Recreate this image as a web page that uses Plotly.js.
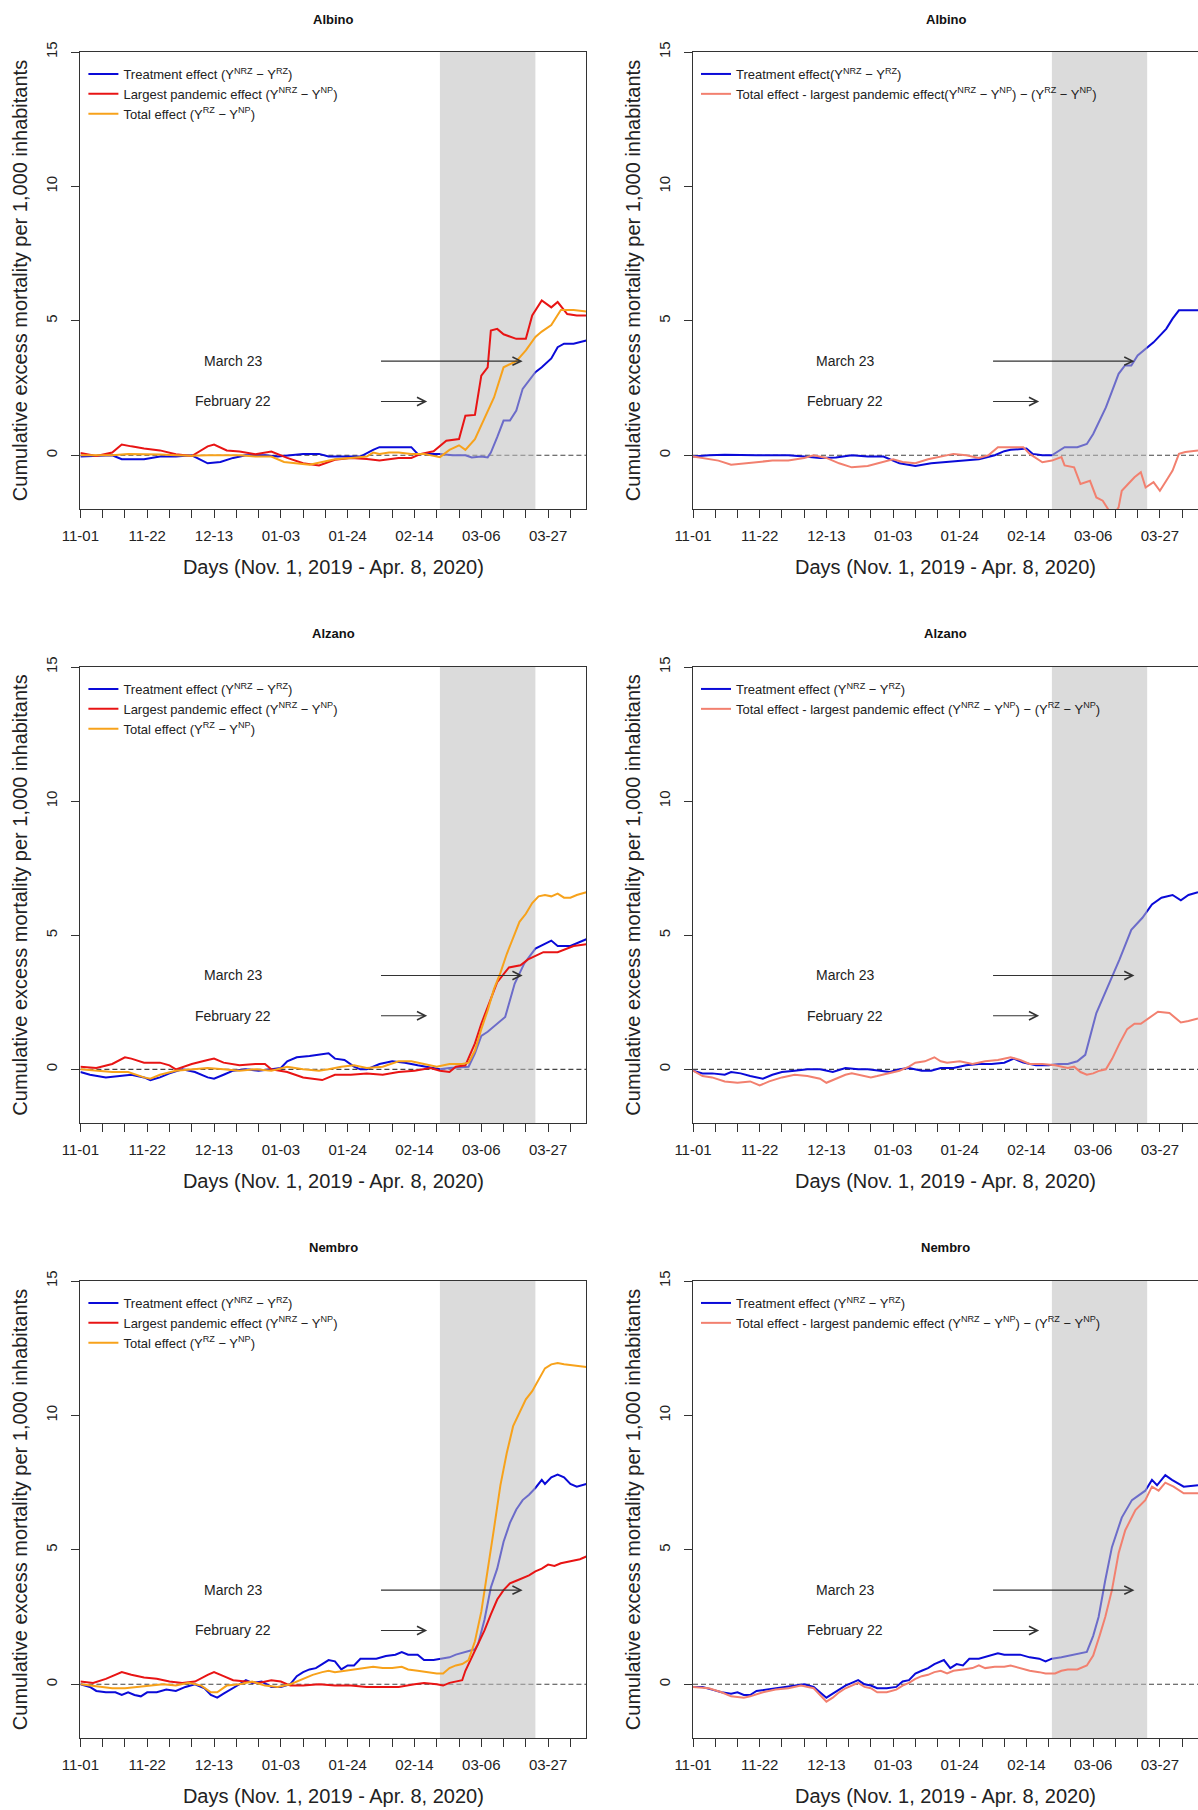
<!DOCTYPE html>
<html><head><meta charset="utf-8">
<script src="https://cdn.plot.ly/plotly-3.0.1.min.js"></script>
<style>html,body{margin:0;padding:0;background:#fff}#chart{width:1198px;height:1810px}</style>
</head><body><div id="chart"></div>
<script>
// ---------- axis / annotation data ----------
const labelDays = [0,21,42,63,84,105,126,147];
const labelText = ['11-01','11-22','12-13','01-03','01-24','02-14','03-06','03-27'];
const weekDays = [0,7,14,21,28,35,42,49,56,63,70,77,84,91,98,105,112,119,126,133,140,147,154];
const dayRange = [0, 159];
const valueRange = [-2, 15];
const valueTicks = [0, 5, 10, 15];
const shadeStart = 113;   // February 22
const shadeEnd = 143;     // March 23
const arrowTail = 94;
const febArrow = {label:'February 22', textX:48, y:2, tip:109};
const marArrow = {label:'March 23', textX:48, y:3.5, tip:139};
const xTitle = 'Days (Nov. 1, 2019 - Apr. 8, 2020)';
const yTitle = 'Cumulative excess mortality per 1,000 inhabitants';
const towns = ['Albino','Albino','Alzano','Alzano','Nembro','Nembro'];

// ---------- Albino, left ----------
const albL_treat_x = [0,5,10,13,20,25,30,35,40,44,48,52,58,62,66,70,75,78,84,88,92,94,100,104,106,109,113,117,121,123,126,128,129,131,133,135,137,139,141,143,145,148,150,152,155,159];
const albL_treat_y = [-0.05,-0.02,0,-0.15,-0.15,-0.05,-0.05,0,-0.3,-0.25,-0.1,0,0,-0.05,0,0.05,0.05,-0.05,-0.05,-0.05,0.2,0.3,0.3,0.3,0.05,0.05,0.05,0,0,-0.08,-0.05,-0.08,0.1,0.67,1.29,1.29,1.66,2.47,2.78,3.09,3.27,3.6,4.02,4.15,4.15,4.27];
const albL_pand_x = [0,5,10,13,16,20,25,30,35,40,42,46,50,55,60,65,70,75,80,85,90,94,100,104,107,111,115,119,121,124,126,128,129,131,133,137,140,142,145,148,150,153,156,159];
const albL_pand_y = [0.08,-0.03,0.1,0.4,0.33,0.25,0.18,0.04,-0.03,0.33,0.4,0.18,0.14,0.04,0.14,-0.1,-0.3,-0.38,-0.17,-0.1,-0.14,-0.2,-0.1,-0.1,0.05,0.15,0.54,0.6,1.47,1.5,2.96,3.27,4.64,4.7,4.5,4.33,4.33,5.2,5.76,5.5,5.7,5.25,5.2,5.2];
const albL_total_x = [0,5,10,15,20,25,30,35,40,45,50,55,60,64,68,72,76,80,85,90,92,94,97,100,104,108,113,116,119,121,124,127,130,133,137,140,143,145,148,151,155,159];
const albL_total_y = [0,0,0,0.05,0.05,0.03,0,-0.02,0,0,0,-0.05,-0.05,-0.25,-0.3,-0.35,-0.25,-0.15,-0.1,-0.05,0.1,0.05,0.1,0.1,0.05,0.05,-0.07,0.2,0.37,0.2,0.6,1.4,2.15,3.27,3.5,3.9,4.4,4.6,4.84,5.4,5.4,5.35];

// ---------- Albino, right ----------
const albR_treat_x = [0,5,10,15,20,25,30,35,40,45,50,55,60,65,70,75,80,85,88,90,95,98,100,105,107,110,113,117,121,124,126,128,130,132,134,136,138,140,142,145,147,149,151,153,155,159];
const albR_treat_y = [-0.05,0,0.02,0,0,0,0,-0.05,-0.1,-0.08,0,-0.05,-0.05,-0.3,-0.4,-0.3,-0.25,-0.2,-0.15,-0.15,0,0.15,0.2,0.25,0.05,0,0,0.3,0.3,0.42,0.79,1.29,1.78,2.4,3.03,3.34,3.34,3.71,3.9,4.2,4.45,4.7,5.08,5.39,5.39,5.39];
const albR_diff_x = [0,3,8,12,16,20,25,30,35,38,42,46,50,55,60,63,66,70,74,78,82,86,90,93,96,100,104,106,110,113,116,117,120,122,125,127,129,131,132.5,134,135,137,139,141,142.5,145,147,149,151,153,155,159];
const albR_diff_y = [-0.05,-0.1,-0.2,-0.35,-0.3,-0.25,-0.2,-0.2,-0.1,0,-0.1,-0.3,-0.45,-0.4,-0.25,-0.15,-0.25,-0.3,-0.15,-0.05,0.05,0,-0.1,0,0.3,0.3,0.3,0.05,-0.26,-0.2,-0.07,-0.38,-0.45,-1.07,-0.95,-1.57,-1.69,-2.06,-2.2,-1.94,-1.32,-1.07,-0.82,-0.63,-1.2,-1.0,-1.32,-0.95,-0.57,0.05,0.12,0.18];

// ---------- Alzano, left ----------
const alzL_treat_x = [0,3,8,12,16,20,22,25,28,32,36,40,42,45,48,52,56,60,63,65,68,72,76,78,80,83,86,88,90,94,98,102,106,110,113,116,120,122,124,126,128,131,133.5,136.5,139.5,143,145.5,148,150,154,159];
const alzL_treat_y = [-0.1,-0.2,-0.3,-0.25,-0.2,-0.3,-0.4,-0.3,-0.15,0,-0.1,-0.3,-0.35,-0.2,-0.05,0,-0.05,0,0.05,0.3,0.45,0.5,0.55,0.6,0.4,0.35,0.1,0,0,0.2,0.3,0.25,0.15,0.05,0,0.05,0.1,0.1,0.6,1.25,1.4,1.7,1.95,3.2,3.95,4.5,4.65,4.8,4.6,4.6,4.85];
const alzL_pand_x = [0,5,10,14,16,20,25,28,30,35,40,42,45,50,55,58,60,65,70,76,80,85,90,95,100,105,110,113,116,118,121,124,126,128.7,131,134.7,138.3,140.7,145.5,150,155,159];
const alzL_pand_y = [0.1,0.05,0.2,0.45,0.4,0.25,0.25,0.15,0,0.2,0.35,0.4,0.25,0.15,0.2,0.2,0,-0.1,-0.3,-0.4,-0.2,-0.2,-0.15,-0.2,-0.1,-0.05,0.05,-0.05,-0.1,0.1,0.15,0.97,1.7,2.5,3.25,3.8,3.88,4.1,4.37,4.37,4.6,4.66];
const alzL_total_x = [0,5,10,15,20,22,25,30,35,40,45,50,55,60,65,70,75,78,82,86,90,95,100,104,108,112,116,120,122,124,126,128,130,132,134,136,138,140,142,144,146,148,150,152,154,156,159];
const alzL_total_y = [0,-0.05,-0.1,-0.1,-0.3,-0.35,-0.2,-0.05,0,0.05,0,-0.05,0,-0.05,0.1,0,-0.05,0,0.1,0.15,0.05,0.1,0.3,0.3,0.2,0.1,0.2,0.2,0.25,0.7,1.5,2.2,3.0,3.6,4.3,4.9,5.5,5.8,6.2,6.45,6.5,6.45,6.55,6.4,6.4,6.5,6.6];

// ---------- Alzano, right ----------
const alzR_treat_x = [0,3,6,10,12,15,18,22,25,28,32,36,40,44,48,52,55,58,62,65,68,72,75,78,82,86,90,94,98,101,104,108,112,115,118,121,123.5,127,130.7,134.3,138,141.5,144.5,147.5,151,153.6,156,159];
const alzR_treat_y = [-0.05,-0.15,-0.15,-0.2,-0.1,-0.15,-0.25,-0.35,-0.2,-0.1,-0.05,0,0,-0.1,0.05,0,0,-0.05,-0.1,0,0.05,-0.05,-0.05,0.05,0.05,0.15,0.2,0.2,0.25,0.4,0.25,0.15,0.15,0.2,0.2,0.3,0.54,2.1,3.1,4.1,5.2,5.65,6.15,6.4,6.5,6.3,6.5,6.6];
const alzR_diff_x = [0,3,6,10,14,18,21,24,28,32,36,40,42,45,48,50,54,56,58,62,65,68,70,73,76,78,80,84,88,92,96,100,103,106,110,114,118,120,122,124,126,128,130,132,134.3,136.7,139,141,144,146.4,150,153.6,156,159];
const alzR_diff_y = [-0.05,-0.25,-0.3,-0.45,-0.5,-0.45,-0.6,-0.45,-0.3,-0.2,-0.25,-0.35,-0.5,-0.35,-0.2,-0.15,-0.25,-0.3,-0.25,-0.15,-0.05,0.1,0.25,0.3,0.45,0.3,0.25,0.3,0.2,0.3,0.35,0.45,0.35,0.2,0.2,0.15,0.05,0.1,-0.1,-0.2,-0.15,-0.05,0,0.4,0.97,1.5,1.7,1.7,1.95,2.15,2.1,1.75,1.8,1.9];

// ---------- Nembro, left ----------
const nemL_treat_x = [0,3,5,8,11,13,15,17,19,21,24,27,30,33,36,39,41,43,45,48,50,52,54,57,60,63,66,68,70,72,74,76,78,80,82,84,86,88,90,93,96,99,101,103,106,108,111,113,116,118,121,124,125,127,129,131,133,135,137,139,141,143,145,146,148,150,152,154,156,159];
const nemL_treat_y = [0,-0.1,-0.25,-0.3,-0.3,-0.4,-0.3,-0.4,-0.45,-0.3,-0.3,-0.2,-0.25,-0.1,0,-0.15,-0.4,-0.5,-0.35,-0.15,0,0.15,0.05,0.1,-0.1,-0.1,0,0.3,0.45,0.55,0.6,0.75,0.9,0.85,0.55,0.7,0.7,0.95,0.95,0.95,1.05,1.1,1.2,1.1,1.1,0.9,0.9,0.95,1.0,1.1,1.2,1.3,1.5,2.4,3.6,4.3,5.3,6.0,6.5,6.85,7.05,7.3,7.6,7.45,7.7,7.8,7.7,7.45,7.35,7.45];
const nemL_pand_x = [0,4,8,13,16,20,24,28,32,36,40,42,45,48,52,56,60,63,66,70,75,80,85,90,95,100,105,108,112,114,116,118,120,121,123,125,127,129,131,133,135,137,139,141,143,145,147,149,151,153,155,157,159];
const nemL_pand_y = [0.1,0.05,0.2,0.45,0.35,0.25,0.2,0.1,0.05,0.1,0.35,0.45,0.3,0.15,0.1,0.05,0.15,0.1,-0.05,-0.05,0,-0.05,-0.05,-0.1,-0.1,-0.1,0,0.05,0,-0.05,0.05,0.1,0.15,0.5,1.0,1.5,2.0,2.6,3.15,3.5,3.75,3.85,3.95,4.05,4.2,4.3,4.45,4.4,4.5,4.55,4.6,4.65,4.75];
const nemL_total_x = [0,3,6,10,14,18,22,26,30,34,38,41,43,46,50,54,58,62,66,68,70,73,76,78,80,83,86,89,92,95,98,101,103,106,109,112,114,116,118,120,122,124,126,128,130,132,134,136,138,140,142,144,146,148,150,152,155,159];
const nemL_total_y = [0,-0.05,-0.1,-0.15,-0.15,-0.1,-0.05,0,-0.05,0.05,-0.05,-0.3,-0.3,-0.05,0,0.1,-0.05,-0.1,0,0.1,0.2,0.35,0.45,0.5,0.45,0.5,0.55,0.6,0.65,0.6,0.6,0.65,0.55,0.5,0.45,0.4,0.4,0.6,0.7,0.75,0.9,1.6,2.7,4.2,5.8,7.4,8.6,9.6,10.1,10.6,10.9,11.3,11.75,11.9,11.95,11.9,11.85,11.8];

// ---------- Nembro, right ----------
const nemR_treat_x = [0,3,6,9,12,14,16,18,20,23,26,29,32,35,38,40,42,44,46,48,50,52,54,56,58,61,64,66,68,70,72,74,76,78,79,81,83,85,87,90,93,96,98,100,103,106,109,111,113,116,118,121,124,126,127.7,129.8,131.9,135,138.2,142.4,144.5,146.1,148.7,150.8,154.5,159];
const nemR_treat_y = [-0.1,-0.1,-0.2,-0.3,-0.35,-0.3,-0.4,-0.4,-0.25,-0.2,-0.15,-0.1,-0.05,0,-0.1,-0.3,-0.5,-0.35,-0.2,-0.05,0.05,0.15,0,-0.05,-0.15,-0.15,-0.1,0.1,0.15,0.4,0.5,0.6,0.75,0.85,0.9,0.6,0.75,0.7,0.95,0.95,1.05,1.15,1.1,1.1,1.1,1.0,0.95,0.85,0.95,1.0,1.05,1.1,1.2,1.8,2.5,3.87,5.1,6.2,6.85,7.2,7.6,7.4,7.78,7.6,7.35,7.4];
const nemR_diff_x = [0,5,9,12,16,18,22,26,30,34,38,40,42,44,46,48,50,52,54,56,58,61,64,66,68,70,72,74,76,78,80,82,85,88,90,92,95,98,100,103,106,109,111,114,116,118,121,124,126,128,129.8,131.9,134,136.1,139.3,142.4,144.5,146.6,148.7,151.3,154.5,159];
const nemR_diff_y = [-0.1,-0.15,-0.3,-0.45,-0.5,-0.45,-0.3,-0.2,-0.15,-0.05,-0.15,-0.4,-0.65,-0.5,-0.3,-0.15,-0.05,0.05,-0.1,-0.15,-0.3,-0.3,-0.2,-0.05,0.05,0.2,0.3,0.35,0.45,0.5,0.4,0.5,0.55,0.6,0.7,0.6,0.65,0.65,0.7,0.6,0.5,0.45,0.4,0.4,0.5,0.55,0.55,0.7,1.07,1.8,2.5,3.5,4.87,5.73,6.48,6.85,7.35,7.2,7.5,7.35,7.1,7.1];

// ---------- legend texts ----------
const nmTreat = 'Treatment effect (Y<sup>NRZ</sup> − Y<sup>RZ</sup>)';
const nmTreatTight = 'Treatment effect(Y<sup>NRZ</sup> − Y<sup>RZ</sup>)';
const nmPand = 'Largest pandemic effect (Y<sup>NRZ</sup> − Y<sup>NP</sup>)';
const nmTotal = 'Total effect (Y<sup>RZ</sup> − Y<sup>NP</sup>)';
const nmDiff = 'Total effect - largest pandemic effect (Y<sup>NRZ</sup> − Y<sup>NP</sup>) − (Y<sup>RZ</sup> − Y<sup>NP</sup>)';
const nmDiffTight = 'Total effect - largest pandemic effect(Y<sup>NRZ</sup> − Y<sup>NP</sup>) − (Y<sup>RZ</sup> − Y<sup>NP</sup>)';

// ---------- styling ----------
const FONT = 'Liberation Sans, Arial, sans-serif';
const C_BLUE = '#0a0ad8', C_RED = '#e81414', C_ORANGE = '#f7a21b', C_SALMON = '#f2806f';
const SHADE = 'rgba(190,190,190,0.55)';
const W = 1198, H = 1810;
const colPx = [[80.4, 586.3], [693, 1198]];
const rowPx = [[52, 509], [667, 1123], [1281, 1738]];
const titlePx = [19.6, 633.6, 1247.6];

const panelSeries = [
  {before:[[albL_treat_x, albL_treat_y, nmTreat, C_BLUE]], after:[[albL_pand_x, albL_pand_y, nmPand, C_RED],[albL_total_x, albL_total_y, nmTotal, C_ORANGE]]},
  {before:[[albR_treat_x, albR_treat_y, nmTreatTight, C_BLUE]], after:[[albR_diff_x, albR_diff_y, nmDiffTight, C_SALMON]]},
  {before:[[alzL_treat_x, alzL_treat_y, nmTreat, C_BLUE]], after:[[alzL_pand_x, alzL_pand_y, nmPand, C_RED],[alzL_total_x, alzL_total_y, nmTotal, C_ORANGE]]},
  {before:[[alzR_treat_x, alzR_treat_y, nmTreat, C_BLUE]], after:[[alzR_diff_x, alzR_diff_y, nmDiff, C_SALMON]]},
  {before:[[nemL_treat_x, nemL_treat_y, nmTreat, C_BLUE]], after:[[nemL_pand_x, nemL_pand_y, nmPand, C_RED],[nemL_total_x, nemL_total_y, nmTotal, C_ORANGE]]},
  {before:[[nemR_treat_x, nemR_treat_y, nmTreat, C_BLUE]], after:[[nemR_diff_x, nemR_diff_y, nmDiff, C_SALMON]]}
];

const data = [];
const layout = {
  width: W, height: H, margin:{l:0,r:0,t:0,b:0},
  paper_bgcolor:'#fff', plot_bgcolor:'rgba(0,0,0,0)',
  font:{family:FONT, color:'#222'},
  showlegend:true, annotations:[], shapes:[]
};

panelSeries.forEach((p, i) => {
  const n = i + 1;
  const sfx = n === 1 ? '' : String(n);
  const xa = 'x' + sfx, ya = 'y' + sfx;
  const lg = 'legend' + sfx;
  const col = i % 2, row = Math.floor(i / 2);
  const [xl, xr] = colPx[col];
  const [yt, yb] = rowPx[row];

  const addLine = (s) => data.push({
    type:'scatter', mode:'lines', x:s[0], y:s[1], name:s[2],
    line:{color:s[3], width:2}, xaxis:xa, yaxis:ya, legend:lg, hoverinfo:'skip'
  });
  p.before.forEach(addLine);
  // shaded period (drawn over the treatment line, under the others)
  data.push({
    type:'scatter', mode:'lines', x:[shadeStart, shadeEnd, shadeEnd, shadeStart, shadeStart],
    y:[valueRange[0], valueRange[0], valueRange[1], valueRange[1], valueRange[0]],
    fill:'toself', fillcolor:SHADE, line:{width:0, color:'rgba(0,0,0,0)'},
    showlegend:false, hoverinfo:'skip', xaxis:xa, yaxis:ya
  });
  p.after.forEach(addLine);

  layout['xaxis' + sfx] = {
    domain:[xl / W, xr / W], range:dayRange, anchor:ya,
    tickmode:'array', tickvals:labelDays, ticktext:labelText,
    ticks:'outside', ticklen:8, tickwidth:1, tickcolor:'#333',
    minor:{tickmode:'array', tickvals:weekDays, ticks:'outside', ticklen:8, tickwidth:1, tickcolor:'#333', showgrid:false},
    showline:true, linecolor:'#333', linewidth:1, mirror:true,
    showgrid:false, zeroline:false, ticklabelstandoff:5,
    tickfont:{family:FONT, size:15, color:'#222'},
    title:{text:xTitle, font:{family:FONT, size:20, color:'#222'}, standoff:16}
  };
  layout['yaxis' + sfx] = {
    domain:[1 - yb / H, 1 - yt / H], range:valueRange, anchor:xa,
    tickmode:'array', tickvals:valueTicks, tickangle:-90,
    ticks:'outside', ticklen:8, tickwidth:1, tickcolor:'#333',
    showline:true, linecolor:'#333', linewidth:1, mirror: col === 0,
    showgrid:false, zeroline:false, ticklabelstandoff:8,
    tickfont:{family:FONT, size:15, color:'#222'},
    title:{text:yTitle, font:{family:FONT, size:20, color:'#222'}, standoff:10}
  };
  layout[lg] = {
    x:(xl + 3) / W, y:1 - (yt + 7) / H, xanchor:'left', yanchor:'top',
    bgcolor:'rgba(0,0,0,0)', borderwidth:0, tracegroupgap:0,
    font:{family:FONT, size:13, color:'#222'}
  };
  // zero reference line
  layout.shapes.push({type:'line', xref:xa + ' domain', yref:ya, x0:0, x1:1, y0:0, y1:0,
    line:{color:'#444', width:1.2, dash:'5px,3px'}, layer:'below'});
  // subplot title
  layout.annotations.push({text:towns[i], xref:'paper', yref:'paper',
    x:(xl + xr) / 2 / W, y:1 - titlePx[row] / H, xanchor:'center', yanchor:'middle',
    showarrow:false, font:{family:FONT, size:13, color:'#111', weight:'bold'}});
  // date labels and arrows
  [marArrow, febArrow].forEach(a => {
    layout.annotations.push({text:a.label, xref:xa, yref:ya, x:a.textX, y:a.y,
      xanchor:'center', yanchor:'middle', showarrow:false,
      font:{family:FONT, size:14, color:'#222'}});
    layout.annotations.push({text:'', xref:xa, yref:ya, x:a.tip, y:a.y,
      axref:xa, ayref:ya, ax:arrowTail, ay:a.y, showarrow:true,
      arrowhead:5, arrowsize:1.5, arrowwidth:1.1, arrowcolor:'#333', standoff:0});
  });
});

Plotly.newPlot('chart', data, layout, {displayModeBar:false, staticPlot:true});
</script>
</body></html>
